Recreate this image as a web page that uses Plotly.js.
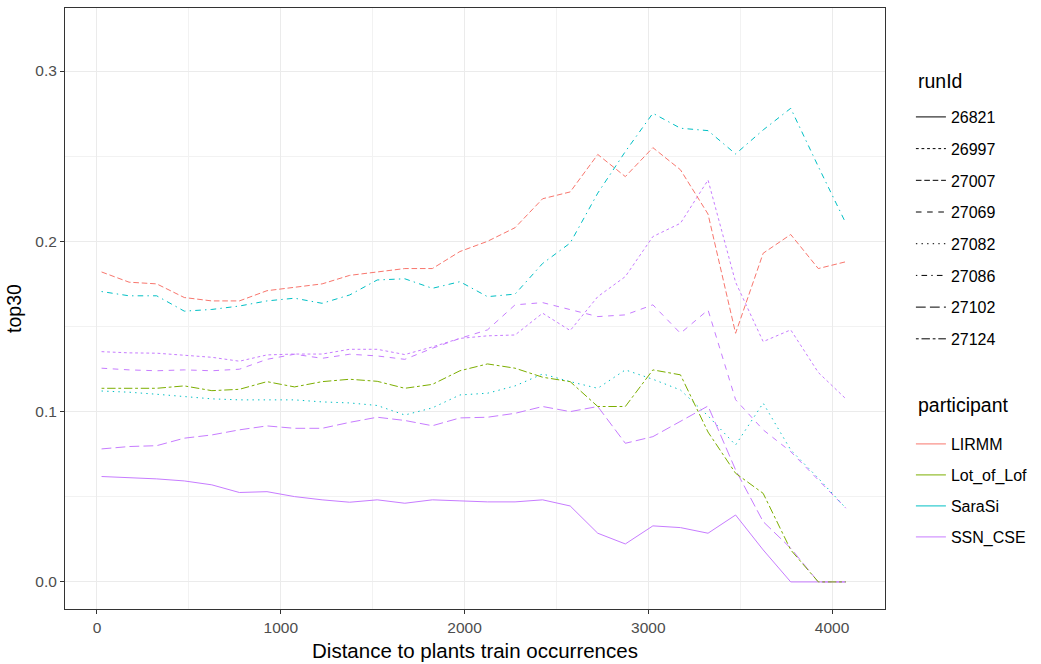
<!DOCTYPE html>
<html>
<head>
<meta charset="utf-8">
<script src="https://cdn.plot.ly/plotly-3.0.1.min.js"></script>
<style>
html,body{margin:0;padding:0;background:#ffffff;}
#chart{width:1041px;height:664px;}
</style>
</head>
<body>
<div id="chart"></div>
<script>
// ---- data ----
const distance = [25, 175, 325, 475, 625, 775, 925, 1075, 1225, 1375, 1525, 1675, 1825, 1975,
  2125, 2275, 2425, 2575, 2725, 2875, 3025, 3175, 3325, 3475, 3625, 3775, 3925, 4075];

const runIds = ['26821', '26997', '27007', '27069', '27082', '27086', '27102', '27124'];
const participants = ['LIRMM', 'Lot_of_Lof', 'SaraSi', 'SSN_CSE'];

// participant of each run
const runParticipant = ['SSN_CSE', 'SSN_CSE', 'LIRMM', 'SSN_CSE', 'SaraSi', 'SaraSi', 'SSN_CSE', 'Lot_of_Lof'];

// top30 values per run
const top30_26821 = [0.0619, 0.0613, 0.0605, 0.0593, 0.057, 0.0525, 0.053, 0.0501, 0.0482, 0.0468, 0.0482, 0.0462, 0.0482, 0.0476,
  0.047, 0.047, 0.0482, 0.0446, 0.0286, 0.0223, 0.0329, 0.0319, 0.0286, 0.0393, 0.0188, 0, 0, 0];
const top30_26997 = [0.1352, 0.1345, 0.1343, 0.1331, 0.1319, 0.1296, 0.1333, 0.1338, 0.1338, 0.1366, 0.1366, 0.1335, 0.138, 0.143,
  0.1445, 0.145, 0.1578, 0.1476, 0.1675, 0.1793, 0.2028, 0.2106, 0.236, 0.176, 0.1411, 0.148, 0.123, 0.1075];
const top30_27007 = [0.182, 0.176, 0.175, 0.167, 0.165, 0.165, 0.171, 0.173, 0.175, 0.180, 0.182, 0.184, 0.184, 0.194,
  0.200, 0.208, 0.225, 0.229, 0.251, 0.238, 0.255, 0.242, 0.216, 0.146, 0.193, 0.204, 0.184, 0.188];
const top30_27069 = [0.1255, 0.1245, 0.124, 0.1245, 0.124, 0.1249, 0.1307, 0.1337, 0.1313, 0.1337, 0.1327, 0.1307, 0.1372, 0.143,
  0.148, 0.1627, 0.164, 0.1597, 0.1558, 0.1568, 0.1627, 0.146, 0.1597, 0.107, 0.0893, 0.0765, 0.06, 0.0433];
const top30_27082 = [0.1121, 0.1114, 0.1102, 0.1088, 0.1075, 0.1069, 0.1069, 0.1069, 0.1057, 0.1051, 0.1036, 0.098, 0.1022, 0.1098,
  0.1108, 0.1151, 0.1221, 0.1176, 0.1137, 0.1245, 0.119, 0.1127, 0.0975, 0.0804, 0.105, 0.0775, 0.0609, 0.0433];
const top30_27086 = [0.1705, 0.168, 0.168, 0.159, 0.160, 0.162, 0.165, 0.1666, 0.1636, 0.1685, 0.1773, 0.178, 0.1724, 0.1763,
  0.1675, 0.169, 0.187, 0.199, 0.2283, 0.2527, 0.2752, 0.2664, 0.265, 0.2513, 0.2654, 0.2781, 0.2439, 0.2106];
const top30_27102 = [0.0781, 0.0795, 0.080, 0.0844, 0.0863, 0.0893, 0.0916, 0.0902, 0.0902, 0.0937, 0.0967, 0.0948, 0.0917, 0.0963,
  0.0967, 0.099, 0.103, 0.100, 0.103, 0.0814, 0.0853, 0.0941, 0.1033, 0.0658, 0.0354, 0.0198, 0, 0];
const top30_27124 = [0.1137, 0.1137, 0.1137, 0.1151, 0.1123, 0.1131, 0.1176, 0.1145, 0.1176, 0.119, 0.1178, 0.1137, 0.116, 0.124,
  0.128, 0.1255, 0.1202, 0.1176, 0.103, 0.103, 0.1245, 0.1216, 0.088, 0.0638, 0.052, 0.0188, 0, 0];

const runValues = [top30_26821, top30_26997, top30_27007, top30_27069, top30_27082, top30_27086, top30_27102, top30_27124];

// ---- styles ----
const participantColors = {LIRMM: '#F8766D', Lot_of_Lof: '#7CAE00', SaraSi: '#00BFC4', SSN_CSE: '#C77CFF'};
const runDashes = ['solid', '2.8px,2.8px', '5.6px,2.8px', '5.6px,5.6px', '1.4px,4.2px',
  '1.4px,4.2px,5.6px,4.2px', '9.8px,4.2px', '2.8px,2.8px,8.4px,2.8px'];

const FONT = '"Liberation Sans", Arial, sans-serif';
const traces = [];

runIds.forEach((rid, k) => {
  traces.push({
    type: 'scatter', mode: 'lines', x: distance, y: runValues[k],
    line: {color: participantColors[runParticipant[k]], width: 1, dash: runDashes[k]},
    showlegend: false, hoverinfo: 'skip'
  });
});

// legend: runId
runIds.forEach((rid, k) => {
  traces.push({
    type: 'scatter', mode: 'lines', x: [null], y: [null], name: rid,
    legend: 'legend', legendgroup: 'r' + rid,
    line: {color: '#000000', width: 1, dash: runDashes[k]}, showlegend: true
  });
});
// legend: participant
participants.forEach((p) => {
  traces.push({
    type: 'scatter', mode: 'lines', x: [null], y: [null], name: p,
    legend: 'legend2', legendgroup: 'p' + p,
    line: {color: participantColors[p], width: 1, dash: 'solid'}, showlegend: true
  });
});

const axisCommon = {
  showline: true, mirror: true, linecolor: '#333333', linewidth: 1,
  ticks: 'outside', ticklen: 4, tickwidth: 1, tickcolor: '#333333',
  showgrid: true, gridcolor: '#ebebeb', gridwidth: 1, zeroline: false,
  tickfont: {family: FONT, size: 15.5, color: '#4d4d4d'},
  automargin: false
};

const layout = {
  width: 1041, height: 664,
  paper_bgcolor: '#ffffff', plot_bgcolor: '#ffffff',
  font: {family: FONT, color: '#000000'},
  margin: {l: 65, r: 154, t: 8, b: 55, pad: 0},
  xaxis: Object.assign({}, axisCommon, {
    range: [-174, 4288], tick0: 0, dtick: 1000,
    minor: {dtick: 500, tick0: 0, showgrid: true, gridcolor: '#f2f2f2', gridwidth: 1, ticks: ''},
    title: {text: 'Distance to plants train occurrences', font: {family: FONT, size: 20.5, color: '#000000'}, standoff: 9}
  }),
  yaxis: Object.assign({}, axisCommon, {
    range: [-0.0159, 0.337], tick0: 0, dtick: 0.1, tickformat: '.1f',
    minor: {dtick: 0.05, tick0: 0, showgrid: true, gridcolor: '#f2f2f2', gridwidth: 1, ticks: ''},
    title: {text: 'top30', font: {family: FONT, size: 19.5, color: '#000000'}, standoff: 8}
  }),
  legend: {
    x: 1.0316, xanchor: 'left', y: 0.8469, yanchor: 'top',
    traceorder: 'grouped', tracegroupgap: 7.9,
    bgcolor: 'rgba(0,0,0,0)', borderwidth: 0,
    font: {family: FONT, size: 16, color: '#000000'},
    itemwidth: 30
  },
  legend2: {
    x: 1.0316, xanchor: 'left', y: 0.3028, yanchor: 'top',
    traceorder: 'grouped', tracegroupgap: 7.2,
    bgcolor: 'rgba(0,0,0,0)', borderwidth: 0,
    font: {family: FONT, size: 16, color: '#000000'},
    itemwidth: 30
  },
  annotations: [
    {text: 'runId', xref: 'paper', yref: 'paper', x: 1.0377, y: 0.8785, xanchor: 'left', yanchor: 'middle',
      showarrow: false, font: {family: FONT, size: 19.5, color: '#000000'}},
    {text: 'participant', xref: 'paper', yref: 'paper', x: 1.0377, y: 0.3394, xanchor: 'left', yanchor: 'middle',
      showarrow: false, font: {family: FONT, size: 19.5, color: '#000000'}}
  ]
};

Plotly.newPlot('chart', traces, layout, {staticPlot: true, displayModeBar: false});
</script>
</body>
</html>
